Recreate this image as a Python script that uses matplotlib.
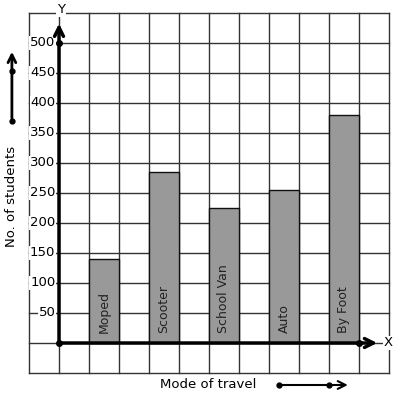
import matplotlib.pyplot as plt

modes = ["Moped", "Scooter", "School Van", "Auto", "By Foot"]
students = [140, 285, 225, 255, 380]
yticks = [50, 100, 150, 200, 250, 300, 350, 400, 450, 500]

fig = plt.figure(figsize=(3.97, 3.99), dpi=100)
ax = fig.add_axes([0, 0, 1, 1])
ax.set_xlim(-59 / 30, 338 / 30)
ax.set_ylim(-56 / 30 * 50, 343 / 30 * 50)
ax.axis("off")

# grid, one cell = 1 on x, 50 on y
for gx in range(-1, 12):
    ax.plot([gx, gx], [-50, 550], color="#333333", lw=1, zorder=1)
for gy in range(-50, 551, 50):
    ax.plot([-1, 11], [gy, gy], color="#333333", lw=1, zorder=1)

# bars
xpos = [1.5 + 2 * i for i in range(len(modes))]
ax.bar(xpos, students, width=1, color="#999999", edgecolor="#111111", lw=1, zorder=2)
for x, m in zip(xpos, modes):
    ax.text(x, 17, m, rotation=90, ha="center", va="bottom", fontsize=9, color="#222222", zorder=3)

# axes with arrows
ax.annotate("", xy=(0, 537), xytext=(0, 0),
            arrowprops=dict(arrowstyle="->", lw=2.5, color="black", mutation_scale=16), zorder=4)
ax.annotate("", xy=(10.7, 0), xytext=(0, 0),
            arrowprops=dict(arrowstyle="->", lw=2.5, color="black", mutation_scale=16), zorder=4)
ax.plot([0, 0, 10], [0, 500, 0], "o", color="black", ms=4, zorder=5)

# tick labels
for t in yticks:
    ax.text(-0.12, t, str(t), ha="right", va="center", fontsize=9.5, zorder=3,
            bbox=dict(facecolor="white", edgecolor="none", pad=0.5))
ax.text(0.07, 555, "Y", ha="center", va="center", fontsize=9.5, zorder=3,
        bbox=dict(facecolor="white", edgecolor="none", pad=0.5))
ax.text(10.97, 0, "X", ha="center", va="center", fontsize=9.5, zorder=3,
        bbox=dict(facecolor="white", edgecolor="none", pad=0.5))

# axis titles with little arrows
ax.text(-1.57, 245, "No. of students", rotation=90, ha="center", va="center", fontsize=9.5)
ax.text(4.98, -70, "Mode of travel", ha="center", va="center", fontsize=9.5)
ax.annotate("", xy=(-1.57, 490), xytext=(-1.57, 370),
            arrowprops=dict(arrowstyle="->", lw=2, color="black", mutation_scale=14))
ax.plot([-1.57, -1.57], [370, 453], "o", color="black", ms=3.5)
ax.annotate("", xy=(9.72, -70), xytext=(7.33, -70),
            arrowprops=dict(arrowstyle="->", lw=1.5, color="black", mutation_scale=14))
ax.plot([7.33, 9.0], [-70, -70], "o", color="black", ms=3.5)

fig.savefig("out.png", dpi=100, facecolor="white")
